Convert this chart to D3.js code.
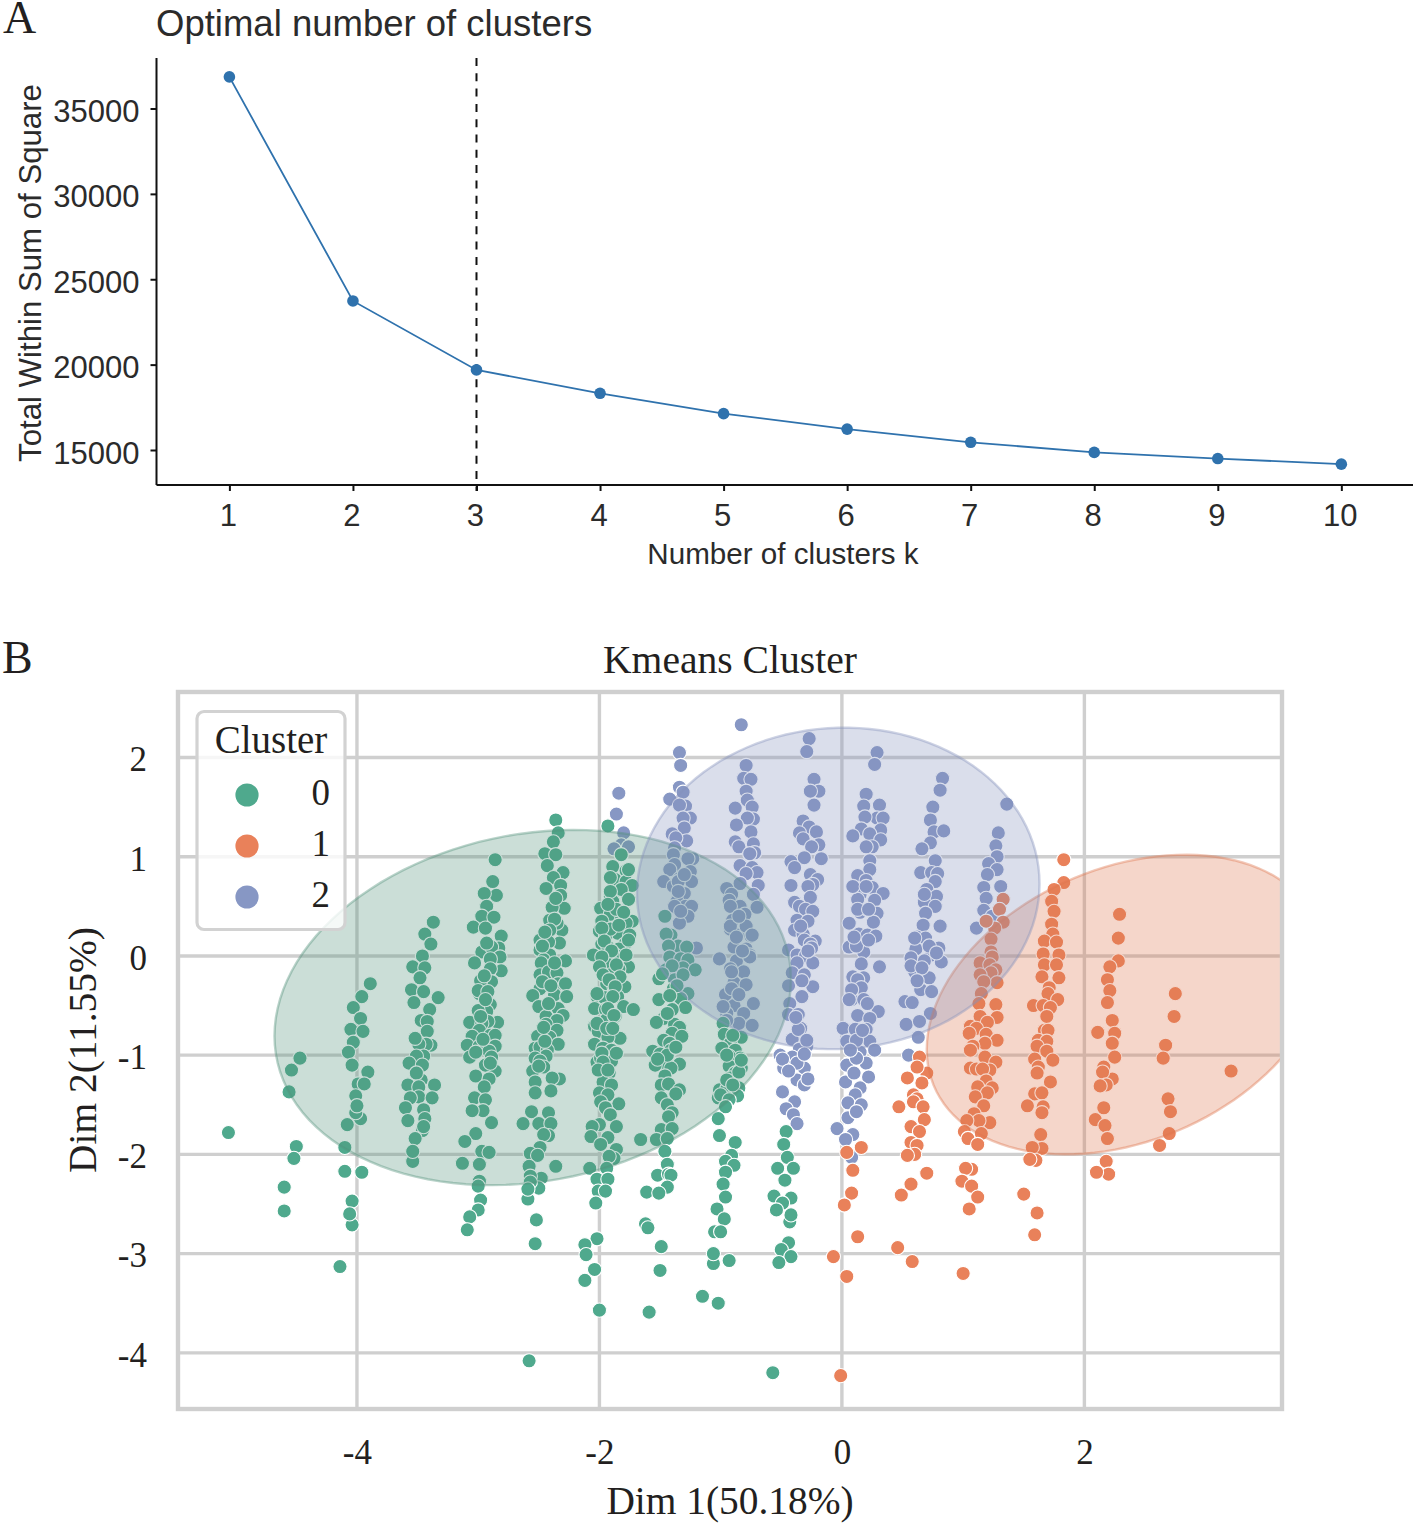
<!DOCTYPE html>
<html><head><meta charset="utf-8">
<script src="https://d3js.org/d3.v7.min.js"></script>
<style>body{margin:0;background:#fff}svg{display:block}</style></head>
<body><svg id="c" width="1416" height="1524"></svg>
<script>
// Panel A values
const kValues=[1,2,3,4,5,6,7,8,9,10];
const wss=[36850,23730,19690,18320,17130,16220,15450,14860,14500,14170];
const wssTicks=[15000,20000,25000,30000,35000];
const optimalK=3;
// Panel B values
const xTicks=[-4,-2,0,2];
const yTicks=[-4,-3,-2,-1,0,1,2];
const clusterNames=["0","1","2"];
const clusterColors=["#4fa98d","#e9815a","#8797c4"];
const ellipseColors=["#52917a","#de764e","#8491bc"];
// centre x, centre y, half width, half height, correlation
const ellipse0=[-2.55,-0.52,2.13,1.79,0.16];
const ellipse1=[2.34,-0.49,1.64,1.51,0.3];
const ellipse2=[-0.03,0.68,1.66,1.62,0.03];

const cluster0=[
[-5.06,-1.78],
[-4.47,-1.03],[-4.54,-1.15],[-4.56,-1.37],[-4.50,-1.92],[-4.52,-2.04],[-4.60,-2.33],[-4.60,-2.57],
[-3.89,-0.28],[-3.96,-0.41],[-4.03,-0.52],[-3.97,-0.63],[-4.05,-0.74],[-3.95,-0.76],[-4.03,-0.87],[-4.07,-0.97],[-4.04,-1.10],[-3.91,-1.17],[-3.99,-1.29],[-3.94,-1.29],[-4.01,-1.41],[-3.97,-1.64],[-4.01,-1.58],[-4.00,-1.51],[-4.08,-1.70],[-4.10,-1.93],[-4.10,-2.17],[-3.96,-2.18],[-4.04,-2.47],[-4.04,-2.71],[-4.06,-2.60],[-4.14,-3.13],
[-3.37,0.34],[-3.44,0.22],[-3.39,0.12],[-3.46,0.00],[-3.54,-0.11],[-3.44,-0.12],[-3.48,-0.22],[-3.55,-0.34],[-3.45,-0.36],[-3.53,-0.47],[-3.33,-0.42],[-3.40,-0.54],[-3.47,-0.65],[-3.42,-0.66],[-3.42,-0.76],[-3.39,-0.90],[-3.43,-0.89],[-3.49,-0.89],[-3.52,-0.83],[-3.45,-1.01],[-3.51,-1.01],[-3.57,-1.08],[-3.46,-1.10],[-3.47,-1.25],[-3.51,-1.18],[-3.58,-1.30],[-3.36,-1.30],[-3.49,-1.32],[-3.49,-1.42],[-3.56,-1.43],[-3.38,-1.43],[-3.60,-1.53],[-3.45,-1.55],[-3.44,-1.64],[-3.58,-1.66],[-3.46,-1.76],[-3.45,-1.72],[-3.52,-1.84],[-3.54,-2.07],[-3.54,-1.97],
[-2.86,0.97],[-2.88,0.75],[-2.85,0.61],[-2.95,0.63],[-2.93,0.50],[-2.97,0.40],[-2.87,0.39],[-3.04,0.29],[-2.94,0.28],[-2.81,0.20],[-2.83,0.08],[-2.97,0.04],[-2.89,0.09],[-2.82,-0.01],[-2.90,-0.03],[-3.03,-0.07],[-2.81,-0.15],[-2.90,-0.13],[-2.89,-0.26],[-2.98,-0.25],[-2.99,-0.38],[-3.00,-0.35],[-2.92,-0.36],[-2.90,-0.49],[-2.93,-0.56],[-3.00,-0.55],[-3.07,-0.67],[-2.84,-0.67],[-2.92,-0.66],[-2.97,-0.68],[-2.98,-0.61],[-2.99,-0.75],[-2.90,-0.80],[-2.86,-0.80],[-3.05,-0.81],[-3.09,-0.90],[-2.99,-0.91],[-2.86,-0.91],[-2.91,-0.96],[-3.07,-1.02],[-2.89,-1.02],[-2.86,-1.16],[-2.94,-1.10],[-3.02,-1.21],[-2.91,-1.24],[-2.95,-1.32],[-3.03,-1.43],[-2.94,-1.45],[-2.96,-1.56],[-3.05,-1.56],[-2.89,-1.68],[-3.02,-1.79],[-3.11,-1.87],[-2.97,-1.97],[-2.91,-1.98],[-3.13,-2.09],[-2.99,-2.10],[-2.99,-2.27],[-3.00,-2.32],[-2.98,-2.46],[-3.00,-2.56],[-3.07,-2.63],[-3.09,-2.76],
[-2.36,1.37],[-2.34,1.24],[-2.38,1.15],[-2.45,1.03],[-2.36,1.02],[-2.43,0.91],[-2.30,0.84],[-2.38,0.79],[-2.32,0.71],[-2.44,0.68],[-2.32,0.61],[-2.29,0.48],[-2.39,0.49],[-2.31,0.26],[-2.35,0.33],[-2.41,0.36],[-2.37,0.37],[-2.41,0.26],[-2.33,0.13],[-2.49,0.16],[-2.42,0.14],[-2.49,0.06],[-2.41,0.01],[-2.28,-0.05],[-2.46,-0.04],[-2.48,-0.07],[-2.49,-0.19],[-2.42,-0.16],[-2.35,-0.17],[-2.34,-0.28],[-2.28,-0.28],[-2.49,-0.33],[-2.55,-0.40],[-2.37,-0.39],[-2.27,-0.41],[-2.50,-0.51],[-2.34,-0.53],[-2.30,-0.60],[-2.44,-0.61],[-2.35,-0.65],[-2.44,-0.69],[-2.35,-0.75],[-2.51,-0.81],[-2.41,-0.82],[-2.34,-0.89],[-2.53,-0.93],[-2.49,-0.92],[-2.43,-0.95],[-2.44,-1.01],[-2.53,-1.03],[-2.49,-1.06],[-2.55,-1.16],[-2.46,-1.12],[-2.33,-1.24],[-2.39,-1.23],[-2.53,-1.27],[-2.53,-1.38],[-2.40,-1.36],[-2.56,-1.57],[-2.42,-1.58],[-2.63,-1.69],[-2.50,-1.69],[-2.40,-1.69],[-2.42,-1.81],[-2.46,-1.80],[-2.49,-1.93],[-2.57,-1.99],[-2.51,-2.01],[-2.58,-2.12],[-2.36,-2.12],[-2.48,-2.24],[-2.50,-2.34],[-2.57,-2.22],[-2.57,-2.28],[-2.59,-2.45],[-2.59,-2.35],[-2.52,-2.66],[-2.53,-2.90],[-2.58,-4.08],
[-1.93,1.31],[-1.82,1.02],[-1.89,0.90],[-1.78,0.86],[-1.87,0.77],[-1.91,0.79],[-1.78,0.75],[-1.73,0.71],[-1.82,0.67],[-1.76,0.57],[-1.91,0.60],[-1.89,0.55],[-1.99,0.48],[-1.91,0.42],[-1.82,0.36],[-1.73,0.35],[-1.78,0.33],[-1.98,0.35],[-2.00,0.25],[-1.85,0.23],[-1.75,0.21],[-1.95,0.20],[-1.91,0.27],[-1.98,0.12],[-1.79,0.12],[-1.84,0.07],[-1.93,0.09],[-2.05,0.01],[-1.87,0.01],[-1.94,-0.07],[-1.76,-0.11],[-1.84,-0.13],[-1.91,-0.19],[-1.94,-0.28],[-1.88,-0.31],[-1.79,-0.31],[-2.02,-0.41],[-1.96,-0.42],[-1.85,-0.41],[-2.04,-0.53],[-1.95,-0.54],[-1.80,-0.51],[-1.72,-0.54],[-1.87,-0.61],[-1.94,-0.64],[-2.04,-0.71],[-2.01,-0.76],[-1.83,-0.83],[-1.93,-0.82],[-2.04,-0.89],[-1.97,-0.93],[-1.90,-0.95],[-2.02,-1.07],[-1.99,-1.03],[-1.95,-1.08],[-1.90,-1.06],[-1.92,-1.18],[-1.97,-1.27],[-1.90,-1.30],[-2.00,-1.38],[-1.93,-1.40],[-1.99,-1.47],[-1.84,-1.49],[-1.95,-1.53],[-1.91,-1.60],[-2.00,-1.70],[-2.06,-1.72],[-1.86,-1.72],[-2.07,-1.82],[-1.93,-1.83],[-1.99,-1.90],[-1.86,-1.95],[-1.88,-2.04],[-1.92,-2.02],[-2.08,-2.14],[-1.94,-2.14],[-2.02,-2.25],[-1.93,-2.25],[-2.01,-2.37],[-1.95,-2.37],[-2.03,-2.49],[-2.02,-2.85],[-2.12,-2.91],[-2.11,-3.01],[-2.04,-3.16],[-2.12,-3.27],[-2.00,-3.57],
[-1.46,0.40],[-1.41,0.21],[-1.45,0.22],[-1.35,0.10],[-1.43,0.10],[-1.28,0.09],[-1.42,-0.01],[-1.33,-0.03],[-1.27,-0.04],[-1.31,-0.12],[-1.21,-0.14],[-1.45,-0.14],[-1.40,-0.10],[-1.51,-0.23],[-1.38,-0.24],[-1.31,-0.19],[-1.39,-0.33],[-1.27,-0.38],[-1.33,-0.43],[-1.51,-0.44],[-1.29,-0.52],[-1.40,-0.54],[-1.47,-0.63],[-1.53,-0.67],[-1.38,-0.69],[-1.34,-0.72],[-1.40,-0.78],[-1.47,-0.85],[-1.42,-0.88],[-1.56,-0.96],[-1.41,-0.95],[-1.50,-0.99],[-1.49,-1.08],[-1.34,-1.09],[-1.54,-1.10],[-1.41,-1.13],[-1.46,-1.21],[-1.49,-1.30],[-1.43,-1.29],[-1.34,-1.35],[-1.37,-1.39],[-1.49,-1.43],[-1.44,-1.50],[-1.40,-1.58],[-1.43,-1.62],[-1.49,-1.75],[-1.40,-1.74],[-1.66,-1.85],[-1.53,-1.85],[-1.44,-1.84],[-1.46,-1.97],[-1.44,-2.10],[-1.52,-2.21],[-1.43,-2.20],[-1.41,-2.21],[-1.44,-2.33],[-1.61,-2.38],[-1.51,-2.39],[-1.62,-2.70],[-1.60,-2.74],[-1.49,-2.93],[-1.50,-3.17],[-1.59,-3.59],
[-0.98,-0.68],[-0.97,-0.79],[-0.83,-0.82],[-0.92,-0.88],[-0.99,-0.93],[-0.88,-0.95],[-0.84,-1.03],[-0.93,-1.01],[-0.93,-1.11],[-0.83,-1.13],[-0.88,-1.18],[-0.92,-1.23],[-1.01,-1.35],[-0.85,-1.33],[-0.95,-1.34],[-0.93,-1.44],[-1.02,-1.43],[-0.86,-1.41],[-1.00,-1.40],[-0.93,-1.45],[-0.96,-1.52],[-1.02,-1.64],[-1.01,-1.81],[-0.88,-1.88],[-0.91,-2.01],[-0.96,-2.07],[-0.89,-2.11],[-0.96,-2.18],[-0.98,-2.30],[-0.96,-2.43],[-1.03,-2.55],[-0.97,-2.65],[-1.05,-2.78],[-1.00,-2.78],[-1.06,-3.10],[-1.06,-3.00],[-0.93,-3.07],[-1.15,-3.43],[-1.02,-3.50],
[-0.46,-1.77],[-0.48,-1.90],[-0.45,-2.03],[-0.53,-2.14],[-0.40,-2.14],[-0.47,-2.26],[-0.56,-2.42],[-0.42,-2.44],[-0.49,-2.49],[-0.54,-2.56],[-0.43,-2.68],[-0.42,-2.61],[-0.44,-2.89],[-0.50,-2.96],[-0.42,-3.03],[-0.52,-3.09],[-0.57,-4.20]
];
// extra points read from the dense parts of the strands
const cluster0Dense=[
[-1.76,0.87],[-1.91,0.65],[-1.86,0.47],[-1.93,0.52],[-1.80,0.44],[-1.98,0.28],[-1.84,0.31],[-1.76,0.16],[-1.96,0.15],[-1.90,0.05],[-1.78,0.01],[-1.98,-0.01],[-2.00,-0.11],[-1.86,-0.09],[-1.97,-0.19],[-1.83,-0.21],[-1.92,-0.24],[-1.87,-0.31],[-2.02,-0.38],[-1.89,-0.41],[-1.93,-0.53],[-1.88,-0.60],[-2.02,-0.68],[-1.94,-0.73],[-1.89,-0.73],[-1.86,-0.98],[-1.98,-0.98],[-1.97,-1.07],[-2.01,-1.15],[-1.93,-1.15],
[-2.47,0.10],[-2.37,-0.07],[-2.47,-0.26],[-2.42,-0.48],[-2.45,-0.86],[-2.50,-1.11],[-2.46,-0.72],[-2.40,-0.30],[-2.45,0.24],[-2.36,0.58],
[-2.95,-0.20],[-2.94,-0.44],[-2.96,-0.84],[-2.90,-1.08],[-2.93,0.13],[-3.02,-0.97],
[-1.48,-0.18],[-1.36,-0.30],[-1.42,-0.40],[-1.44,-0.58],[-1.32,-0.81],[-1.44,-1.00],[-1.37,-0.92],[-1.52,-1.04],
[-0.95,-1.00],[-0.85,-1.17],[-0.83,-1.05],[-0.90,-0.80],[-0.95,-1.25],[-0.90,-1.30]
];
const cluster1=[
[0.16,-1.93],[0.04,-1.98],[0.09,-2.16],[0.08,-2.39],[0.02,-2.51],[0.13,-2.83],[-0.07,-3.03],[0.04,-3.23],[-0.01,-4.23],
[0.70,-1.18],[0.64,-1.02],[0.62,-1.12],[0.54,-1.23],[0.66,-1.28],[0.59,-1.40],[0.62,-1.44],[0.47,-1.52],[0.59,-1.47],[0.67,-1.52],[0.68,-1.65],[0.57,-1.72],[0.64,-1.77],[0.57,-1.88],[0.62,-1.91],[0.60,-2.00],[0.54,-2.01],[0.70,-2.19],[0.57,-2.30],[0.49,-2.41],[0.46,-2.94],[0.58,-3.08],
[1.33,0.57],[1.30,0.47],[1.33,0.34],[1.26,0.28],[1.19,0.35],[1.23,0.17],[1.23,0.04],[1.24,-0.01],[1.14,-0.07],[1.22,-0.09],[1.27,-0.14],[1.23,-0.17],[1.14,-0.19],[1.28,-0.27],[1.17,-0.26],[1.15,-0.38],[1.27,-0.49],[1.13,-0.48],[1.28,-0.62],[1.14,-0.61],[1.20,-0.67],[1.06,-0.71],[1.11,-0.73],[1.05,-0.78],[1.19,-0.79],[1.28,-0.85],[1.18,-0.88],[1.08,-0.91],[1.06,-0.95],[1.18,-1.02],[1.27,-1.07],[1.06,-1.13],[1.11,-1.14],[1.22,-1.15],[1.16,-1.14],[1.19,-1.26],[1.24,-1.33],[1.12,-1.32],[1.20,-1.38],[1.10,-1.42],[1.17,-1.51],[1.09,-1.59],[1.22,-1.68],[1.13,-1.66],[1.03,-1.66],[1.01,-1.77],[1.15,-1.79],[1.04,-1.84],[1.12,-1.90],[1.07,-2.15],[1.02,-2.14],[0.99,-2.27],[1.07,-2.32],[1.12,-2.43],[1.05,-2.55],[1.00,-3.20],
[1.83,0.97],[1.83,0.74],[1.75,0.67],[1.73,0.55],[1.75,0.45],[1.73,0.32],[1.74,0.22],[1.67,0.15],[1.77,0.14],[1.66,0.02],[1.79,0.01],[1.67,-0.09],[1.77,-0.09],[1.65,-0.21],[1.79,-0.22],[1.71,-0.32],[1.70,-0.38],[1.78,-0.44],[1.58,-0.50],[1.66,-0.50],[1.72,-0.52],[1.69,-0.61],[1.67,-0.75],[1.70,-0.75],[1.62,-0.85],[1.69,-0.86],[1.61,-0.91],[1.69,-0.96],[1.59,-1.04],[1.74,-1.05],[1.62,-1.12],[1.61,-1.18],[1.72,-1.27],[1.59,-1.39],[1.65,-1.38],[1.53,-1.51],[1.66,-1.52],[1.65,-1.58],[1.64,-1.80],[1.65,-1.94],[1.57,-1.93],[1.60,-2.06],[1.55,-2.05],[1.50,-2.40],[1.61,-2.59],[1.59,-2.81],
[2.29,0.42],[2.28,0.18],[2.28,-0.05],[2.21,-0.11],[2.19,-0.24],[2.21,-0.35],[2.19,-0.47],[2.23,-0.65],[2.11,-0.77],[2.25,-0.78],[2.23,-0.88],[2.25,-1.02],[2.16,-1.12],[2.23,-1.24],[2.15,-1.17],[2.18,-1.30],[2.13,-1.31],[2.16,-1.53],[2.09,-1.65],[2.17,-1.71],[2.19,-1.84],[2.18,-2.07],[2.20,-2.20],[2.10,-2.18],
[2.75,-0.38],[2.74,-0.61],[2.67,-0.90],[2.65,-1.03],[3.21,-1.16],[2.69,-1.44],[2.71,-1.57],[2.70,-1.79],[2.62,-1.91]
];
const cluster2=[
[-1.84,1.64],[-1.86,1.43],[-1.80,1.24],[-1.82,1.12],[-1.76,1.10],[-1.88,1.08],
[-1.34,2.05],[-1.33,1.92],[-1.34,1.70],[-1.42,1.58],[-1.31,1.65],[-1.29,1.51],[-1.34,1.52],[-1.25,1.39],[-1.31,1.39],[-1.30,1.29],[-1.40,1.23],[-1.28,1.16],[-1.37,1.19],[-1.38,1.09],[-1.23,0.98],[-1.27,0.98],[-1.39,1.02],[-1.38,0.92],[-1.42,0.87],[-1.25,0.85],[-1.47,0.75],[-1.34,0.78],[-1.24,0.75],[-1.39,0.70],[-1.35,0.64],[-1.30,0.63],[-1.36,0.55],[-1.29,0.50],[-1.24,0.50],[-1.27,0.40],[-1.34,0.33],[-1.20,0.08],
[-0.83,2.33],[-0.79,1.92],[-0.81,1.79],[-0.75,1.78],[-0.79,1.66],[-0.78,1.57],[-0.88,1.49],[-0.74,1.50],[-0.73,1.38],[-0.78,1.39],[-0.87,1.32],[-0.75,1.25],[-0.88,1.15],[-0.73,1.13],[-0.85,1.10],[-0.72,1.04],[-0.76,1.03],[-0.84,0.91],[-0.74,0.89],[-0.70,0.84],[-0.79,0.83],[-0.69,0.71],[-0.84,0.73],[-0.95,0.68],[-0.91,0.62],[-0.73,0.62],[-0.93,0.56],[-0.84,0.50],[-0.92,0.50],[-0.70,0.49],[-0.80,0.42],[-0.92,0.27],[-0.86,0.21],[-0.79,0.30],[-0.75,0.20],[-0.89,0.09],[-0.79,0.07],[-1.01,-0.03],[-0.87,-0.05],[-0.76,0.01],[-0.92,-0.13],[-0.81,-0.16],[-0.89,-0.27],[-0.79,-0.29],[-0.96,-0.39],[-0.91,-0.33],[-0.73,-0.48],[-0.89,-0.50],[-0.95,-0.58],[-0.81,-0.58],[-0.85,-0.68],[-0.74,-0.70],
[-0.27,2.19],[-0.29,2.06],[-0.23,1.78],[-0.19,1.66],[-0.26,1.66],[-0.23,1.52],[-0.32,1.36],[-0.27,1.30],[-0.21,1.25],[-0.35,1.24],[-0.32,1.18],[-0.19,1.12],[-0.25,1.10],[-0.17,0.98],[-0.42,0.95],[-0.31,0.99],[-0.39,0.89],[-0.26,0.82],[-0.20,0.77],[-0.42,0.71],[-0.24,0.72],[-0.28,0.70],[-0.26,0.59],[-0.39,0.54],[-0.35,0.50],[-0.30,0.47],[-0.24,0.45],[-0.37,0.36],[-0.28,0.35],[-0.39,0.26],[-0.32,0.22],[-0.22,0.15],[-0.31,0.16],[-0.26,0.12],[-0.44,0.06],[-0.25,0.08],[-0.37,0.01],[-0.30,0.00],[-0.24,-0.07],[-0.37,-0.07],[-0.41,-0.17],[-0.31,-0.19],[-0.24,-0.31],[-0.44,-0.30],[-0.33,-0.41],[-0.43,-0.48],[-0.44,-0.59],[-0.36,-0.59],[-0.34,-0.73],[-0.41,-0.84],[-0.29,-0.91],[-0.35,-0.94],[-0.51,-1.00],[-0.41,-1.02],[-0.48,-1.13],[-0.31,-1.13],[-0.29,-1.26],[-0.37,-1.25],[-0.31,-1.30],[-0.49,-1.37],[-0.39,-1.47],[-0.46,-1.54],[-0.40,-1.60],[-0.37,-1.69],
[0.29,2.05],[0.27,1.93],[0.20,1.63],[0.18,1.51],[0.31,1.52],[0.29,1.39],[0.19,1.40],[0.34,1.39],[0.16,1.28],[0.32,1.27],[0.09,1.21],[0.23,1.23],[0.32,1.17],[0.25,1.10],[0.20,1.10],[0.23,0.96],[0.23,0.87],[0.13,0.81],[0.20,0.76],[0.12,0.68],[0.25,0.69],[0.34,0.63],[0.15,0.62],[0.13,0.57],[0.27,0.56],[0.15,0.44],[0.21,0.47],[0.29,0.43],[0.06,0.33],[0.26,0.34],[0.14,0.22],[0.21,0.21],[0.28,0.20],[0.06,0.09],[0.18,0.04],[0.12,0.10],[0.16,-0.08],[0.31,-0.11],[0.09,-0.21],[0.18,-0.22],[0.13,-0.24],[0.16,-0.32],[0.08,-0.44],[0.18,-0.44],[0.30,-0.56],[0.13,-0.60],[0.23,-0.63],[0.01,-0.73],[0.11,-0.74],[0.20,-0.74],[0.23,-0.86],[0.04,-0.86],[0.15,-0.97],[0.27,-0.95],[0.04,-1.10],[0.20,-1.08],[0.12,-1.03],[0.22,-1.22],[0.03,-1.27],[0.15,-1.33],[0.11,-1.40],[0.05,-1.48],[0.16,-1.50],[0.05,-1.63],[0.12,-1.57],[-0.04,-1.74],[0.09,-1.80],[0.03,-1.85],[0.08,-2.03],
[0.83,1.79],[0.81,1.67],[0.75,1.50],[0.73,1.37],[0.76,1.25],[0.84,1.26],[0.73,1.14],[0.66,1.08],[0.77,0.96],[0.65,0.84],[0.74,0.84],[0.79,0.83],[0.77,0.75],[0.70,0.67],[0.78,0.60],[0.68,0.54],[0.77,0.50],[0.69,0.43],[0.67,0.31],[0.81,0.30],[0.62,0.19],[0.69,0.18],[0.61,0.07],[0.80,0.08],[0.57,-0.02],[0.74,0.01],[0.82,-0.06],[0.68,-0.05],[0.60,-0.16],[0.72,-0.22],[0.65,-0.34],[0.74,-0.36],[0.52,-0.46],[0.58,-0.47],[0.73,-0.58],[0.53,-0.69],[0.64,-0.66],[0.63,-0.82],[0.55,-1.00],
[1.36,1.53],[1.29,1.24],[1.27,1.11],[1.28,1.00],[1.21,0.93],[1.28,0.87],[1.20,0.82],[1.17,0.69],[1.31,0.70],[1.19,0.58],[1.17,0.46],[1.24,0.40],[1.11,0.28]
];
const cluster2Dense=[
[-1.35,0.75],[-1.35,0.65],[-1.38,0.50],[-1.30,0.82],[-1.33,0.45],
[-0.90,0.36],[-0.92,0.30],[-0.87,0.19],[-0.74,0.21],[-0.76,-0.01],[-0.91,-0.16],[-0.85,-0.39],[-0.98,-0.51],[-0.95,-0.65],[-0.85,0.40],[-0.82,0.05],
[-0.36,-0.74],[-0.29,-0.85],[-0.49,-1.04],[-0.37,-1.08],[-0.44,-1.16],[-0.31,-0.99],[-0.28,-1.24],[-0.34,0.30],[-0.28,0.05],[-0.33,-0.25],[-0.38,-0.62],
[0.09,0.70],[0.20,0.70],[0.13,0.47],[0.22,0.47],[0.10,0.19],[0.22,0.16],[0.08,-0.34],[0.06,-0.44],[0.21,-0.48],[0.12,-0.85],[0.17,-0.75],[0.07,-0.95],[0.10,-1.18],
[0.60,0.18],[0.57,-0.10],[0.72,0.10],[0.66,-0.12],[0.78,0.03],[0.68,0.62],[0.62,-0.25]
];

const svg=d3.select("#c");
const sans="'Liberation Sans',Arial,sans-serif", serif="'Liberation Serif','Times New Roman',serif";
const inkA="#2b2b2b", inkB="#231f20";

// ---------- Panel A
const xA=d3.scaleLinear().domain([0.41,10.58]).range([156.5,1413]);
const yA=d3.scaleLinear().domain([12950,37958]).range([485,58]);
const gA=svg.append("g");
gA.append("text").attr("x",3).attr("y",33).attr("font-family",serif).attr("font-size",46).attr("fill",inkB).text("A");
gA.append("text").attr("x",156).attr("y",36).attr("font-family",sans).attr("font-size",36.5).attr("fill",inkA).text("Optimal number of clusters");
const axXA=gA.append("g").attr("transform","translate(0,485)").call(d3.axisBottom(xA).tickValues(kValues).tickFormat(d3.format("d")).tickSize(6).tickPadding(13));
const axYA=gA.append("g").attr("transform","translate(156.5,0)").call(d3.axisLeft(yA).tickValues(wssTicks).tickFormat(d3.format("d")).tickSize(6).tickPadding(11));
[axXA,axYA].forEach(a=>{a.selectAll("path").attr("stroke","#111").attr("stroke-width",2).attr("d",null);
  a.selectAll("line").attr("stroke","#111").attr("stroke-width",2);
  a.selectAll("text").attr("font-family",sans).attr("font-size",31).attr("fill",inkA);});
axXA.selectAll("text").attr("dx",-1.5);
axYA.selectAll("text").attr("dy","0.42em");
axXA.select("path").attr("d",`M${xA.range()[0]},0H${xA.range()[1]}`);
axYA.select("path").attr("d",`M0,${yA.range()[0]}V${yA.range()[1]}`);
gA.append("line").attr("x1",xA(optimalK)).attr("x2",xA(optimalK)).attr("y1",yA.range()[1]).attr("y2",yA.range()[0]+6)
  .attr("stroke","#111").attr("stroke-width",2).attr("stroke-dasharray","8 7.3");
gA.append("path").attr("d",d3.line().x((d,i)=>xA(kValues[i])).y(d=>yA(d))(wss)).attr("fill","none").attr("stroke","#2f72ad").attr("stroke-width",1.8);
gA.selectAll("circle.p").data(wss).join("circle").attr("cx",(d,i)=>xA(kValues[i])).attr("cy",d=>yA(d)).attr("r",5.8).attr("fill","#2f72ad");
gA.append("text").attr("x",783).attr("y",564).attr("text-anchor","middle").attr("font-family",sans).attr("font-size",29.6).attr("fill",inkA).text("Number of clusters k");
gA.append("text").attr("transform","translate(41,273) rotate(-90)").attr("text-anchor","middle").attr("font-family",sans).attr("font-size",31.2).attr("fill",inkA).text("Total Within Sum of Square");

// ---------- Panel B
const xB=d3.scaleLinear().domain([-5.476,3.63]).range([178,1282]);
const yB=d3.scaleLinear().domain([-4.566,2.66]).range([1409,692]);
const gB=svg.append("g");
gB.append("text").attr("x",2).attr("y",673).attr("font-family",serif).attr("font-size",46).attr("fill",inkB).text("B");
gB.append("text").attr("x",730).attr("y",673).attr("text-anchor","middle").attr("font-family",serif).attr("font-size",39.6).attr("fill",inkB).text("Kmeans Cluster");
const gridC="#cfcfcf";
gB.append("g").selectAll("line").data(xTicks).join("line").attr("x1",d=>xB(d)).attr("x2",d=>xB(d)).attr("y1",692).attr("y2",1409).attr("stroke",gridC).attr("stroke-width",3.4);
gB.append("g").selectAll("line").data(yTicks).join("line").attr("y1",d=>yB(d)).attr("y2",d=>yB(d)).attr("x1",178).attr("x2",1282).attr("stroke",gridC).attr("stroke-width",3.4);
const axXB=gB.append("g").attr("transform","translate(0,1409)").call(d3.axisBottom(xB).tickValues(xTicks).tickFormat(d3.format("d")).tickSize(0).tickPadding(30));
const axYB=gB.append("g").attr("transform","translate(178,0)").call(d3.axisLeft(yB).tickValues(yTicks).tickFormat(d3.format("d")).tickSize(0).tickPadding(31));
[axXB,axYB].forEach(a=>{a.select("path").remove();a.selectAll("text").attr("font-family",serif).attr("font-size",35).attr("fill",inkB);});
axXB.selectAll("text").text(d=>String(d));axYB.selectAll("text").text(d=>String(d)).attr("dy","0.38em");

svg.append("clipPath").attr("id","plot").append("rect").attr("x",178).attr("y",692).attr("width",1104).attr("height",717);
const plot=gB.append("g").attr("clip-path","url(#plot)");
[[cluster2.concat(cluster2Dense),2],[cluster0.concat(cluster0Dense),0],[cluster1,1]].forEach(([pts,c])=>{
  plot.append("g").selectAll("circle").data(pts).join("circle")
    .attr("cx",d=>xB(d[0])).attr("cy",d=>yB(d[1])).attr("r",7.1)
    .attr("fill",clusterColors[c]).attr("stroke","#fff").attr("stroke-width",1.1);
});
const angles=d3.range(0,361,3).map(a=>a*Math.PI/180);
[[ellipse0,0],[ellipse1,1],[ellipse2,2]].forEach(([e,c])=>{
  const [cx,cy,w,h,r]=e, phase=Math.acos(r);
  const line=d3.line().x(t=>xB(cx+w*Math.cos(t))).y(t=>yB(cy+h*Math.cos(t-phase)));
  plot.append("path").attr("d",line(angles)+"Z").attr("fill",ellipseColors[c]).attr("fill-opacity",0.3)
    .attr("stroke",ellipseColors[c]).attr("stroke-opacity",0.4).attr("stroke-width",2.4);
});
gB.append("rect").attr("x",178).attr("y",692).attr("width",1104).attr("height",717).attr("fill","none").attr("stroke",gridC).attr("stroke-width",4.4);
axXB.raise();axYB.raise();
// legend
const lg=gB.append("g");
lg.append("rect").attr("x",197).attr("y",711.5).attr("width",148).attr("height",218).attr("rx",7)
  .attr("fill","#fff").attr("fill-opacity",0.8).attr("stroke","#d2d2d2").attr("stroke-width",3.2);
lg.append("text").attr("x",271).attr("y",753).attr("text-anchor","middle").attr("font-family",serif).attr("font-size",39).attr("fill",inkB).text("Cluster");
const lgY=d3.scalePoint().domain(clusterNames).range([795,897]);
clusterNames.forEach((n,i)=>{
  lg.append("circle").attr("cx",247).attr("cy",lgY(n)).attr("r",11.6).attr("fill",clusterColors[i]);
  lg.append("text").attr("x",330).attr("y",lgY(n)+10).attr("text-anchor","end").attr("font-family",serif).attr("font-size",37).attr("fill",inkB).text(n);
});
gB.append("text").attr("x",730).attr("y",1514).attr("text-anchor","middle").attr("font-family",serif).attr("font-size",39.4).attr("fill",inkB).text("Dim 1(50.18%)");
gB.append("text").attr("transform","translate(96,1050) rotate(-90)").attr("text-anchor","middle").attr("font-family",serif).attr("font-size",39.4).attr("fill",inkB).text("Dim 2(11.55%)");
</script></body></html>
